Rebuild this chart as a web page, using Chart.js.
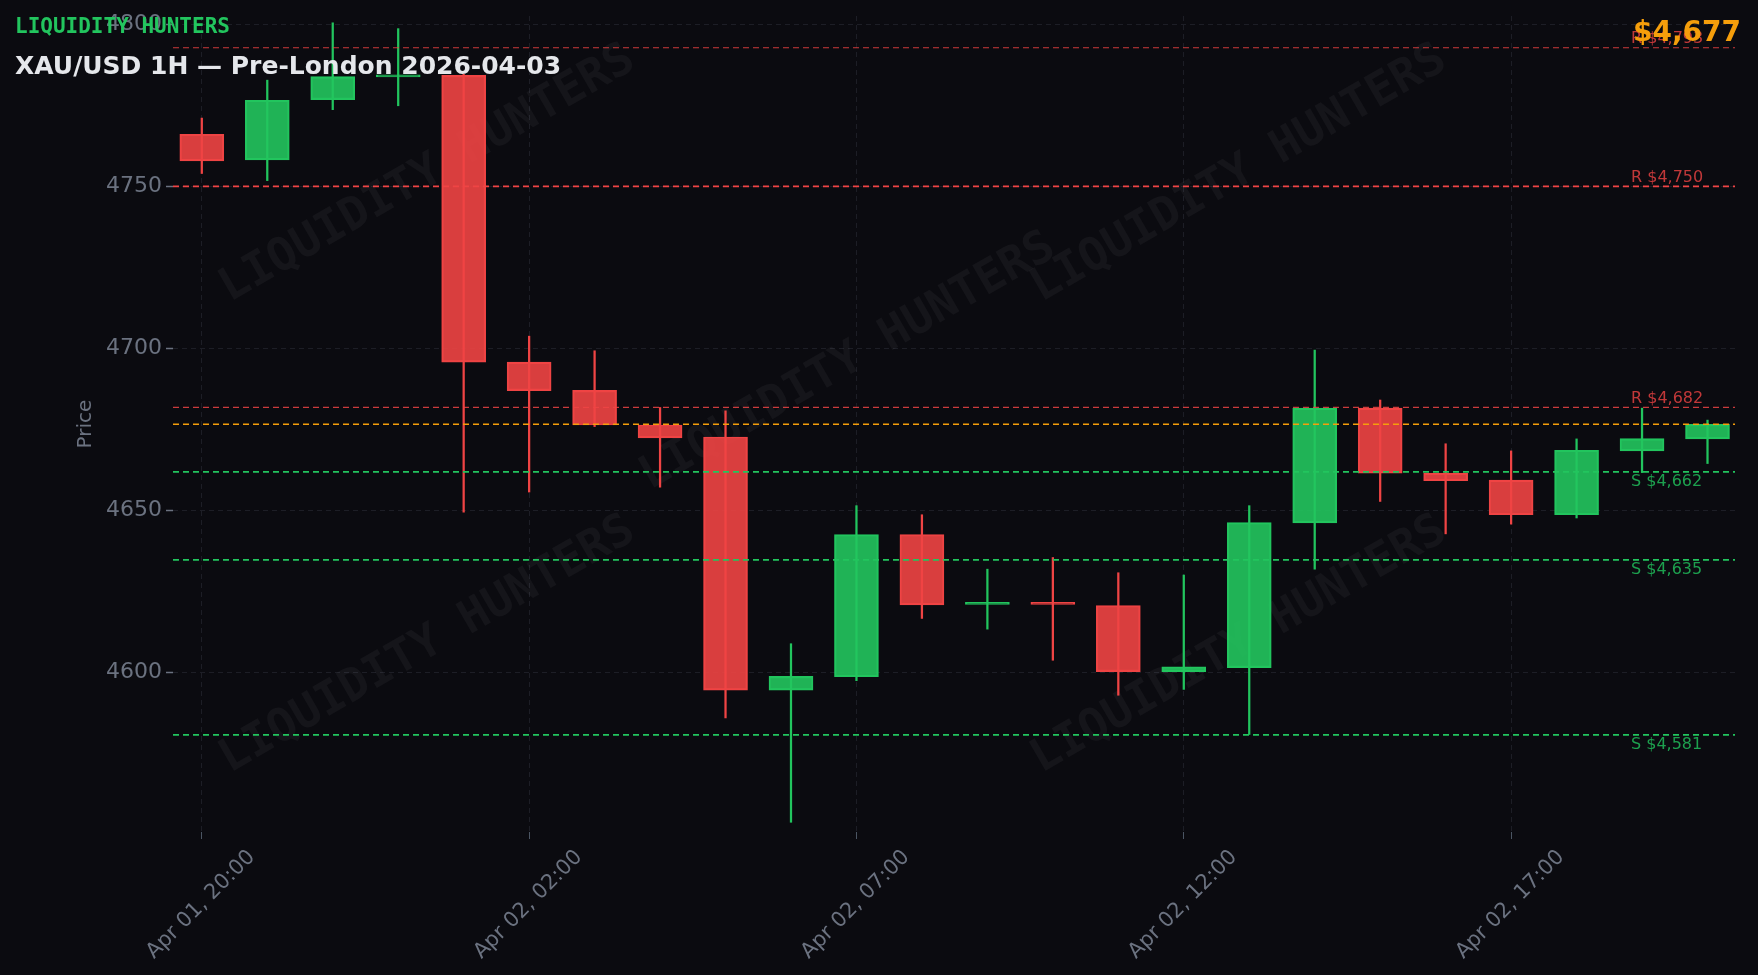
<!DOCTYPE html>
<html>
<head>
<meta charset="utf-8">
<title>XAU/USD 1H</title>
<script src="https://cdn.jsdelivr.net/npm/chart.js@4.4.1/dist/chart.umd.min.js"></script>
<style>
    html, body { margin: 0; padding: 0; background: #0b0b10; }
    #wrap { width: 1758px; height: 975px; }
</style>
</head>
<body>
<div id="wrap"><canvas id="candle_chart"></canvas></div>
<script>
// candle times (one per hour, 21:00 break missing)
const times = ['Apr 01, 20:00', 'Apr 01, 22:00', 'Apr 01, 23:00', 'Apr 02, 00:00', 'Apr 02, 01:00',
    'Apr 02, 02:00', 'Apr 02, 03:00', 'Apr 02, 04:00', 'Apr 02, 05:00', 'Apr 02, 06:00',
    'Apr 02, 07:00', 'Apr 02, 08:00', 'Apr 02, 09:00', 'Apr 02, 10:00', 'Apr 02, 11:00',
    'Apr 02, 12:00', 'Apr 02, 13:00', 'Apr 02, 14:00', 'Apr 02, 15:00', 'Apr 02, 16:00',
    'Apr 02, 17:00', 'Apr 02, 18:00', 'Apr 02, 19:00', 'Apr 02, 20:00'];

const open  = [4766.1, 4758.2, 4776.8, 4783.8, 4784.3, 4695.8, 4687.1, 4676.4, 4672.7, 4594.6, 4598.7, 4642.6,
    4621.0, 4621.7, 4620.7, 4600.3, 4601.5, 4646.2, 4681.6, 4661.5, 4659.4, 4648.7, 4668.4, 4672.1];
const high  = [4771.1, 4782.8, 4800.5, 4798.7, 4784.6, 4703.8, 4699.3, 4681.8, 4680.8, 4608.9, 4651.5, 4648.7,
    4631.9, 4635.5, 4630.8, 4630.1, 4651.5, 4699.5, 4684.1, 4670.6, 4668.4, 4672.1, 4681.6, 4677.9];
const low   = [4754.0, 4751.8, 4773.7, 4774.9, 4649.5, 4655.7, 4675.9, 4657.2, 4586.0, 4553.8, 4597.5, 4616.7,
    4613.4, 4603.8, 4593.0, 4594.8, 4580.9, 4631.9, 4652.8, 4642.8, 4645.8, 4647.7, 4661.7, 4664.5];
const close = [4757.9, 4776.6, 4783.9, 4784.4, 4695.8, 4687.0, 4676.4, 4672.4, 4594.6, 4598.8, 4642.6, 4620.9,
    4621.7, 4621.0, 4600.3, 4601.8, 4646.3, 4681.6, 4661.5, 4659.2, 4648.7, 4668.6, 4672.2, 4676.6];

// support / resistance levels
const level_values = [4792.8, 4750.0, 4681.8, 4661.9, 4634.8, 4580.8];
const level_labels = ['R $4,793', 'R $4,750', 'R $4,682', 'S $4,662', 'S $4,635', 'S $4,581'];
const current_price = 4676.6;

const y_ticks = [4600, 4650, 4700, 4750, 4800];

const green = '#22c55e';
const red = '#ef4444';
const grid_color = '#1d1e26';
const text_gray = '#6b7280';

let candle_colors = open.map(function (o, i) { return close[i] >= o ? green : red; });
let body_colors = open.map(function (o, i) {
    return close[i] >= o ? 'rgba(34,197,94,0.9)' : 'rgba(239,68,68,0.9)';
});

let bodies = open.map(function (o, i) { return {x: i, y: [o, close[i]]}; });
let wicks = open.map(function (o, i) { return {x: i, y: [low[i], high[i]]}; });

// background, watermark, levels and headline texts
const decorations = {
    id: 'decorations',
    beforeDraw(chart) {
        const ctx = chart.ctx;
        ctx.save();
        ctx.fillStyle = '#0b0b10';
        ctx.fillRect(0, 0, chart.width, chart.height);
        ctx.restore();
    },
    beforeDatasetsDraw(chart) {
        const ctx = chart.ctx;
        const a = chart.chartArea;
        const spots = [[0.163, 0.194], [0.432, 0.424], [0.6825, 0.194], [0.163, 0.771], [0.6825, 0.771]];
        ctx.save();
        ctx.font = 'bold 46px "DejaVu Sans Mono"';
        ctx.fillStyle = 'rgba(255,255,255,0.042)';
        ctx.textAlign = 'center';
        ctx.textBaseline = 'middle';
        spots.forEach(function (s) {
            ctx.save();
            ctx.translate(a.left + s[0] * (a.right - a.left), a.top + s[1] * (a.bottom - a.top));
            ctx.rotate(-Math.PI / 6);
            ctx.fillText('LIQUIDITY HUNTERS', 0, 0);
            ctx.restore();
        });
        ctx.restore();
    },
    afterDatasetsDraw(chart) {
        const ctx = chart.ctx;
        const a = chart.chartArea;
        const y = chart.scales.y;
        ctx.save();
        ctx.font = '16px "DejaVu Sans"';
        ctx.textAlign = 'left';
        level_values.forEach(function (v, i) {
            const py = y.getPixelForValue(v);
            const is_res = level_labels[i].charAt(0) === 'R';
            const thin = (i === 0 || i === 2);
            ctx.strokeStyle = is_res ? (thin ? 'rgba(239,68,68,0.85)' : red) : green;
            ctx.lineWidth = thin ? 1.2 : 1.7;
            ctx.setLineDash([6, 4]);
            ctx.beginPath();
            ctx.moveTo(a.left, py);
            ctx.lineTo(a.right, py);
            ctx.stroke();
            ctx.fillStyle = is_res ? 'rgba(239,68,68,0.8)' : 'rgba(34,197,94,0.8)';
            ctx.textBaseline = is_res ? 'bottom' : 'top';
            ctx.fillText(level_labels[i], a.right - 104, is_res ? py - 1 : py + 2);
        });
        // current price
        const cy = y.getPixelForValue(current_price);
        ctx.strokeStyle = '#f59e0b';
        ctx.lineWidth = 1.4;
        ctx.setLineDash([6, 4]);
        ctx.beginPath();
        ctx.moveTo(a.left, cy);
        ctx.lineTo(a.right, cy);
        ctx.stroke();
        ctx.restore();
    },
    afterDraw(chart) {
        const ctx = chart.ctx;
        ctx.save();
        ctx.textBaseline = 'alphabetic';
        ctx.textAlign = 'left';
        ctx.fillStyle = green;
        ctx.font = 'bold 21px "DejaVu Sans Mono"';
        ctx.fillText('LIQUIDITY HUNTERS', 15, 33);
        ctx.fillStyle = '#e5e7eb';
        ctx.font = 'bold 25px "DejaVu Sans"';
        ctx.fillText('XAU/USD 1H \u2014 Pre-London 2026-04-03', 15, 74);
        ctx.textAlign = 'right';
        ctx.fillStyle = '#f59e0b';
        ctx.font = 'bold 28px "DejaVu Sans"';
        ctx.fillText('$' + Math.round(current_price).toLocaleString('en-US'), 1741, 41);
        ctx.restore();
    }
};

let chart_canvas = document.getElementById('candle_chart').getContext('2d');
let candle_chart = new Chart(chart_canvas, {
    type: 'bar',
    data: {
        datasets: [{
            label: 'body',
            data: bodies,
            backgroundColor: body_colors,
            borderColor: candle_colors,
            borderWidth: 1.5,
            borderSkipped: false,
            barThickness: 44,
            minBarLength: 2,
            grouped: false,
        }, {
            label: 'wick',
            data: wicks,
            backgroundColor: candle_colors,
            borderWidth: 0,
            barThickness: 1.6,
            grouped: false,
        }]
    },
    options: {
        responsive: true,
        maintainAspectRatio: false,
        animation: false,
        devicePixelRatio: 1,
        layout: {
            padding: {top: 16, right: 23, left: 0, bottom: 0},
        },
        scales: {
            x: {
                type: 'linear',
                min: -0.44,
                max: 23.42,
                offset: false,
                grid: {
                    offset: false,
                    color: grid_color,
                    tickColor: '#4b5563',
                    tickLength: 7,
                },
                border: {display: false, dash: [5, 4]},
                ticks: {
                    stepSize: 5,
                    includeBounds: false,
                    autoSkip: false,
                    minRotation: 45,
                    maxRotation: 45,
                    labelOffset: 50,
                    padding: 6,
                    color: text_gray,
                    font: {family: 'DejaVu Sans', size: 21},
                    callback: function (v) { return times[v] || ''; },
                },
                afterFit: function (s) {
                    s.height = 143;
                    s.paddingLeft = 0;
                    s.paddingRight = 0;
                },
            },
            y: {
                min: 4550.8,
                max: 4802.6,
                afterBuildTicks: function (s) {
                    s.ticks = y_ticks.map(function (v) { return {value: v}; });
                },
                grid: {
                    color: grid_color,
                    tickColor: text_gray,
                    tickLength: 7,
                    tickWidth: 1.5,
                },
                border: {display: false, dash: [5, 4]},
                ticks: {
                    padding: 4,
                    color: text_gray,
                    font: {family: 'DejaVu Sans', size: 22},
                    callback: function (v) { return String(v); },
                },
                title: {
                    display: true,
                    text: 'Price',
                    color: text_gray,
                    font: {family: 'DejaVu Sans', size: 20},
                    padding: {top: 74, bottom: 0},
                },
                afterFit: function (s) {
                    s.width = 173;
                    s.paddingTop = 0;
                    s.paddingBottom = 0;
                },
            },
        },
        plugins: {
            legend: {display: false},
            tooltip: {enabled: false},
        },
    },
    plugins: [decorations],
});
</script>
</body>
</html>
